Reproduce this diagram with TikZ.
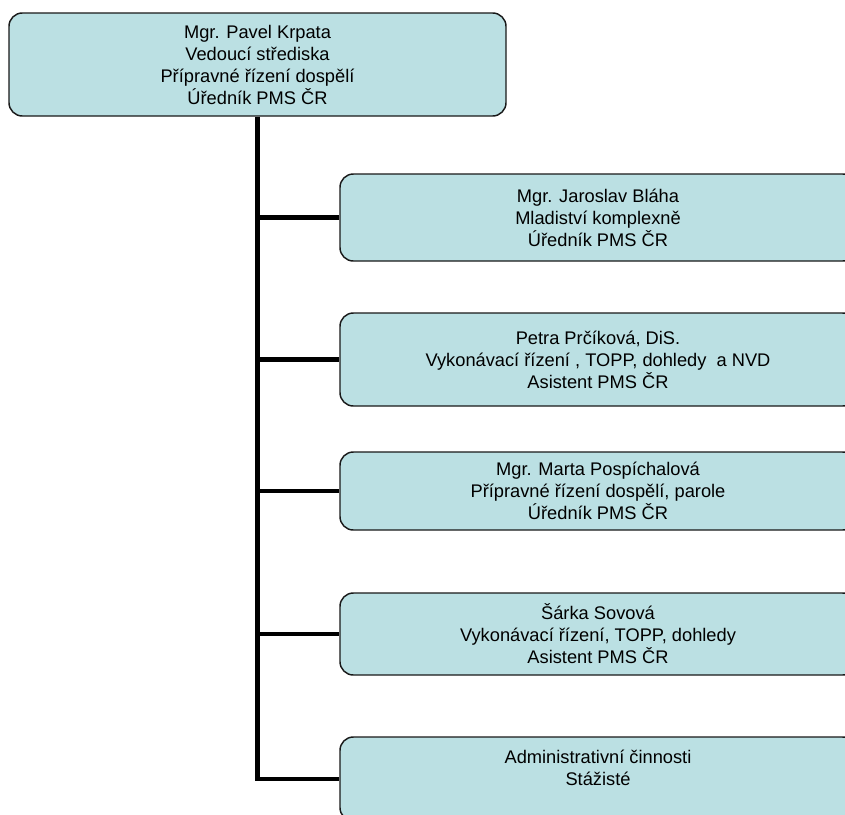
\documentclass[tikz,border=0pt]{standalone}
\usepackage{fontspec}
\setmainfont{Liberation Sans}
\definecolor{boxblue}{RGB}{187,224,227}
\begin{document}
\begin{tikzpicture}[x=0.75pt, y=-0.75pt]
	% Define styles for the boxes and the lines
	\tikzset{
		box/.style = {draw=black!90, fill=boxblue, line width=1.1pt, rounded corners=10pt,
			inner sep=0pt, align=center, font=\fontsize{13.7}{16.5}\selectfont},
		boss/.style = {box, minimum width=372.75pt, minimum height=77.25pt},
		kid/.style = {box, minimum width=387pt},
		trunk/.style = {line width=3.5pt, black}
	}
	\clip (0,0) rectangle (845,814);

	% Head of the centre
	\node[boss] (head) at (257.5, 64.5) {Mgr. Pavel Krpata\\Vedoucí střediska\\Přípravné řízení dospělí\\Úředník PMS ČR};

	% Staff boxes
	\node[kid, minimum height=65.25pt] (blaha) at (598, 217.5) {Mgr. Jaroslav Bláha\\Mladiství komplexně\\Úředník PMS ČR};
	\node[kid, minimum height=69.75pt] (prcikova) at (598, 359.5) {Petra Prčíková, DiS.\\Vykonávací řízení , TOPP, dohledy\ \ a NVD\\Asistent PMS ČR};
	\node[kid, minimum height=58.5pt] (pospichalova) at (598, 491) {Mgr. Marta Pospíchalová\\Přípravné řízení dospělí, parole\\Úředník PMS ČR};
	\node[kid, minimum height=61.5pt] (sovova) at (598, 634) {Šárka Sovová\\Vykonávací řízení, TOPP, dohledy\\Asistent PMS ČR};
	\node[kid, minimum height=63pt] (admin) at (598, 779) {Administrativní činnosti\\Stážisté\\\mbox{}};

	% Draw the lines from the head to the staff
	\draw[trunk] (head.south) |- (admin.west);
	\draw[trunk] (head.south |- blaha.west) -- (blaha.west);
	\draw[trunk] (head.south |- prcikova.west) -- (prcikova.west);
	\draw[trunk] (head.south |- pospichalova.west) -- (pospichalova.west);
	\draw[trunk] (head.south |- sovova.west) -- (sovova.west);
\end{tikzpicture}
\end{document}
